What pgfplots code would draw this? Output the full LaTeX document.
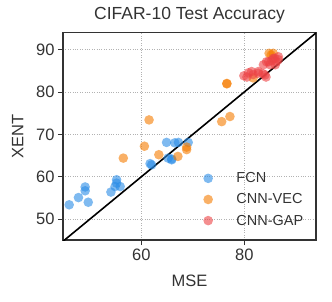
\documentclass[border=0pt]{standalone}
\usepackage{fontspec}
\setmainfont{Liberation Sans}
\usepackage{pgfplots}
\pgfplotsset{compat=1.18}
\definecolor{cfcn}{HTML}{2A8CE6}
\definecolor{cvec}{HTML}{F57C00}
\definecolor{cgap}{HTML}{EC4345}
\definecolor{txt}{HTML}{333333}
\begin{document}
\begin{tikzpicture}
\useasboundingbox (-63pt,-61pt) rectangle (269pt,240pt);
\begin{axis}[
  scale only axis, width=253pt, height=207.5pt,
  xmin=44.8, xmax=93.9, ymin=45.1, ymax=94,
  xtick={60,80}, ytick={50,60,70,80,90},
  tick align=outside, tick pos=left,
  major tick length=5pt,
  every tick/.style={txt, line width=0.8pt},
  axis line style={txt, line width=1.1pt},
  grid=major,
  major grid style={dotted, line width=0.8pt, color=black!30},
  /pgf/number format/assume math mode=true,
  every tick label/.append style={font=\fontsize{16.5}{19}\selectfont, text=txt},
  title={CIFAR-10 Test Accuracy},
  title style={at={([yshift=7.5pt]axis description cs:0.5,1)}, anchor=base, inner sep=0pt, font=\fontsize{17.5}{21}\selectfont, text=txt},
  xlabel={MSE}, ylabel={XENT},
  x label style={at={([yshift=-46.7pt]axis description cs:0.5,0)}, anchor=base, inner sep=0pt, font=\fontsize{16.5}{19}\selectfont, text=txt},
  y label style={at={([xshift=-39.7pt]axis description cs:0,0.5)}, rotate=0, anchor=base, inner sep=0pt, font=\fontsize{16.5}{19}\selectfont, text=txt},
  legend style={draw=none, fill=none, at={(axis cs:72.0,61.0)}, anchor=north west, inner sep=0pt,
     font=\fontsize{14.5}{17}\selectfont, text=txt,
     nodes={inner sep=0pt, anchor=base west},
     row sep=9.5pt},
  legend cell align=left,
  legend image code/.code={\draw[#1, /tikz/every mark/.append style={draw opacity=0}] plot coordinates {(4.7pt,4.5pt)}; \path (0pt,0pt) (33pt,0pt);},
  every mark/.append style={draw opacity=0},
]
\addplot[only marks, mark=*, mark size=4.8pt, draw=none, fill=cfcn, fill opacity=0.6, mark options={draw opacity=0, fill=cfcn, fill opacity=0.6}] coordinates {
(46.0,53.4)(47.8,55.1)(49.1,57.6)(49.1,56.7)(49.7,54.0)(54.1,56.4)(55.2,59.3)(55.2,58.5)(54.9,57.7)(55.9,57.7)
(61.7,63.1)(62.0,62.8)(65.2,64.4)(65.9,64.2)(64.9,68.1)(67.2,68.1)(69.1,68.1)(66.5,68.0)(65.9,64.0)
};
\addlegendentry{FCN}
\addplot[only marks, mark=*, mark size=4.8pt, draw=none, fill=cvec, fill opacity=0.6, mark options={draw opacity=0, fill=cvec, fill opacity=0.6}] coordinates {
(61.5,73.4)(60.6,67.2)(56.5,64.4)(63.4,65.2)(67.1,64.8)(68.8,67.0)(68.8,66.4)
(75.6,73.0)(77.2,74.2)(76.6,81.9)(76.6,82.0)(81.7,83.3)(84.8,89.1)(85.6,89.1)(85.2,88.7)
};
\addlegendentry{CNN-VEC}
\addplot[only marks, mark=*, mark size=4.8pt, draw=none, fill=cgap, fill opacity=0.6, mark options={draw opacity=0, fill=cgap, fill opacity=0.6}] coordinates {
(79.9,83.8)(80.5,83.5)(80.8,84.5)(81.4,84.8)(81.7,84.1)(82.7,84.4)(82.7,84.8)(83.6,84.3)(84.0,84.0)(84.2,83.5)
(83.7,86.4)(84.3,87.1)(84.7,87.1)(85.0,86.4)(85.3,87.4)(85.6,87.9)(85.9,87.9)(86.0,86.4)(86.2,87.1)(86.6,88.3)(86.6,87.6)
};
\addlegendentry{CNN-GAP}
\addplot[black, line width=1.6pt, no marks, forget plot] coordinates {(44.8,44.8)(93.9,93.9)};
\end{axis}
\end{tikzpicture}
\end{document}
